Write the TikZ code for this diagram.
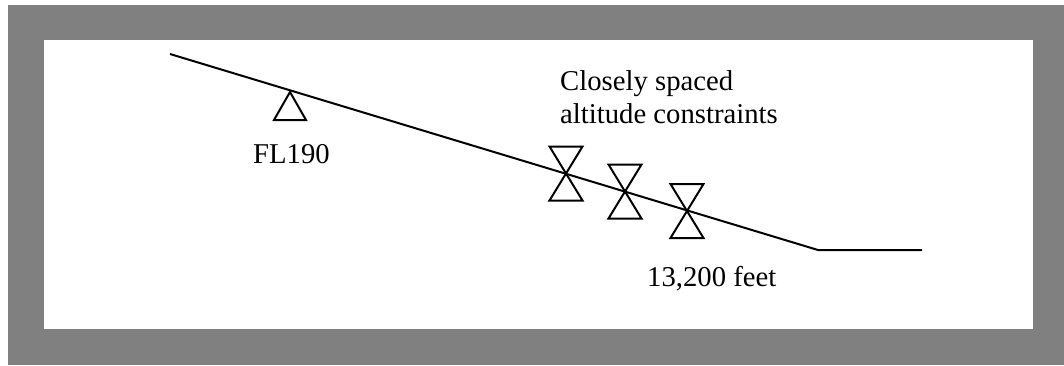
\documentclass[tikz,border=0pt]{standalone}
\usepackage{fontspec}
\setmainfont{Liberation Serif}
\begin{document}
\begin{tikzpicture}[x=1pt,y=-1pt,
  lbl/.style={inner sep=0pt,anchor=base west,font=\fontsize{28.7}{34}\selectfont},
  prof/.style={line width=2pt,black},
  sym/.style={line width=2pt,black,line join=miter}]
\useasboundingbox (0,0) rectangle (1064,365);
\fill[fill={rgb,255:red,128;green,128;blue,128}] (8,5) rectangle (1064,365);
\fill[white] (44,40) rectangle (1033,329);
% profile
\coordinate (p0) at (170,54);
\coordinate (p1) at (818,250);
\coordinate (p2) at (922,250);
\draw[prof] (p0) -- (p1) -- (p2);
% FL190 triangle
\coordinate (t0) at (290,92);
\draw[sym] (t0) -- ++(16,28) -- ++(-32,0) -- cycle;
% hourglasses
\coordinate (h1) at (566,173.5);
\coordinate (h2) at (625,191.5);
\coordinate (h3) at (687,211);
\foreach \h in {h1,h2,h3}
  \draw[sym] (\h) ++(-16.5,-27) -- ++(33,0) -- ++(-33,54) -- ++(33,0) -- cycle;
% labels
\node[lbl] (fl) at (253,163) {FL190};
\node[lbl] (c1) at (560,90) {Closely spaced};
\node[lbl] (c2) at (560,123) {altitude constraints};
\node[lbl] (ft) at (647,286.5) {13,200 feet};
\end{tikzpicture}
\end{document}
